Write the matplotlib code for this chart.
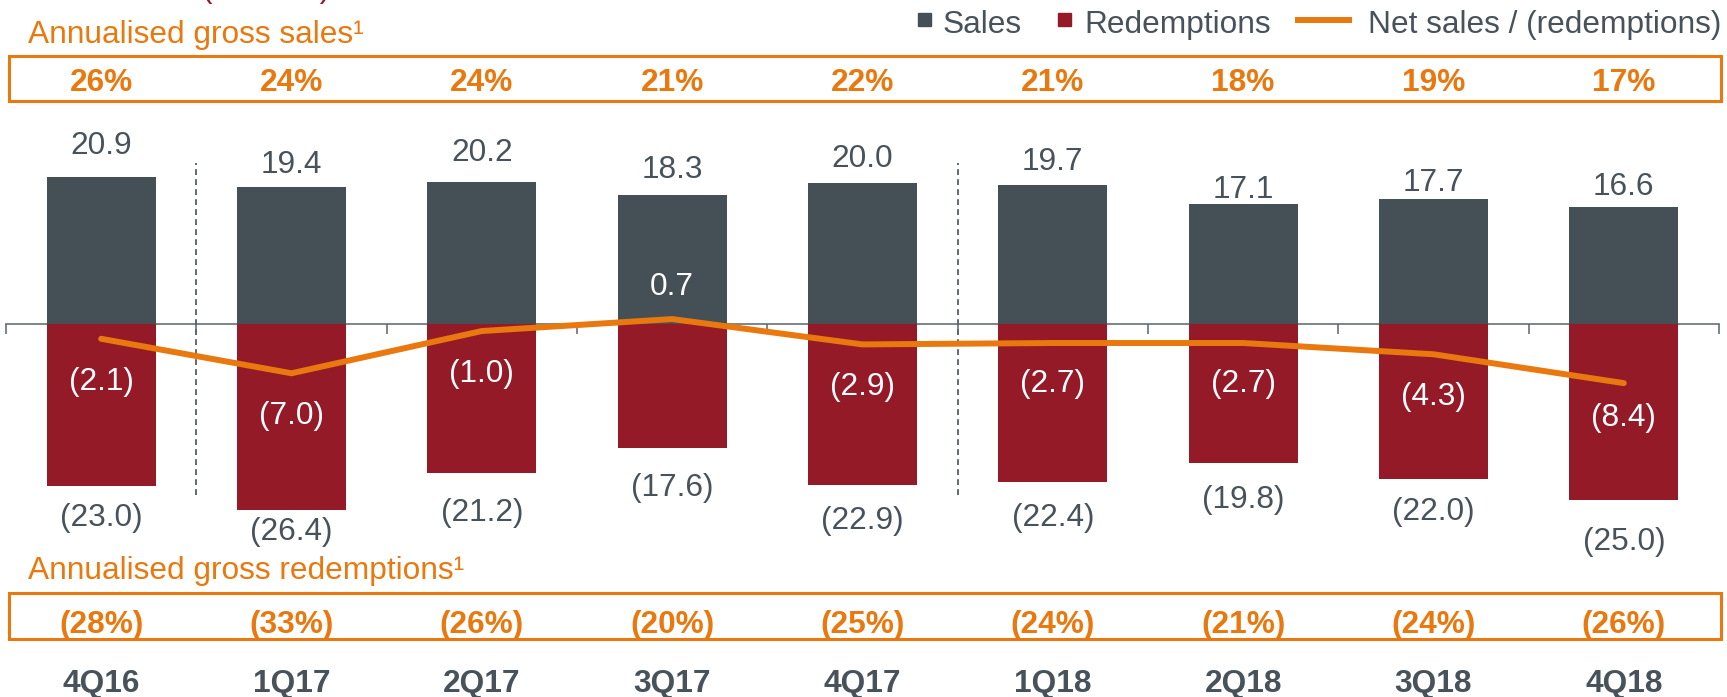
import matplotlib
matplotlib.use('Agg')
import matplotlib.pyplot as plt
from matplotlib.patches import Rectangle
from matplotlib.lines import Line2D

# DATA (GBP bn)
quarters = ['4Q16', '1Q17', '2Q17', '3Q17', '4Q17', '1Q18', '2Q18', '3Q18', '4Q18']
sales = [20.9, 19.4, 20.2, 18.3, 20.0, 19.7, 17.1, 17.7, 16.6]
redemptions = [-23.0, -26.4, -21.2, -17.6, -22.9, -22.4, -19.8, -22.0, -25.0]
net = [-2.1, -7.0, -1.0, 0.7, -2.9, -2.7, -2.7, -4.3, -8.4]
gross_sales_pct = [26, 24, 24, 21, 22, 21, 18, 19, 17]
gross_redemptions_pct = [-28, -33, -26, -20, -25, -24, -21, -24, -26]
period_breaks = [0.5, 4.5]

# hand nudges for label placement (points, up is positive)
sales_nudge = [5.5, -0.8, 4, 1.6, 0.8, 0, -7.1, -4.8, -2.4]
red_nudge = [4, 11.1, -1.6, -1.6, 1.6, 0.8, 0.8, 3.2, -3.2]
net_nudge = [0, 0, 0, 0, 0, 1.5, 1.5, 0, 5.5]

# COLOURS
DARK = '#454F56'
RED = '#951A28'
ORANGE = '#E9780E'
TEXT = '#47525A'
AXIS = '#5A646C'

plt.rcParams['font.family'] = ['Liberation Sans', 'DejaVu Sans']
FS = 22.75

W, H = 1727, 697
fig = plt.figure(figsize=(W / 100, H / 100), dpi=100)


def fx(x):
    return x / W


def fy(y):
    return 1 - y / H


# axes span the full height: zero line at y=324px, 7.04px per unit
zero_px, scale = 324, 7.04
ax = fig.add_axes([fx(6), 0, (1719 - 6) / W, 1])
ax.set_xlim(-0.5, len(quarters) - 0.5)
ax.set_ylim(-(H - zero_px) / scale, zero_px / scale)


def py(y):
    # figure pixel row -> data y
    return (zero_px - y) / scale


x = list(range(len(quarters)))
ax.bar(x, sales, width=0.573, color=DARK, zorder=2)
ax.bar(x, redemptions, width=0.573, color=RED, zorder=2)
ax.plot(x, net, color=ORANGE, lw=4.3, solid_capstyle='round',
        solid_joinstyle='round', zorder=4)

# dashed period separators
for b in period_breaks:
    ax.vlines(b, py(495), py(163), colors=TEXT, linestyles=(0, (3.5, 2.5)),
              lw=1.2, zorder=1)

# axis line at zero with boundary ticks
for s in ['top', 'right', 'left']:
    ax.spines[s].set_visible(False)
ax.spines['bottom'].set_position(('data', 0))
ax.spines['bottom'].set_color(AXIS)
ax.spines['bottom'].set_linewidth(1.1)
ax.spines['bottom'].set_zorder(1)
ax.set_xticks([i - 0.5 for i in range(len(quarters) + 1)])
ax.set_xticklabels([])
ax.tick_params(axis='x', direction='out', length=7.2, width=1.1, color=AXIS)
ax.set_yticks([])
ax.patch.set_visible(False)

# value labels
for i in x:
    ax.annotate(f'{sales[i]:.1f}', (i, sales[i]), xytext=(0, 11 + sales_nudge[i]),
                textcoords='offset points', ha='center', va='baseline',
                fontsize=FS, color=TEXT)
    ax.annotate(f'({-redemptions[i]:.1f})', (i, redemptions[i]),
                xytext=(0, -33 + red_nudge[i]), textcoords='offset points',
                ha='center', va='baseline', fontsize=FS, color=TEXT)
    if net[i] >= 0:
        lab, off = f'{net[i]:.1f}', 17
    else:
        lab, off = f'({-net[i]:.1f})', -36.7
    ax.annotate(lab, (i, net[i]), xytext=(0, off + net_nudge[i]),
                textcoords='offset points', ha='center', va='baseline',
                fontsize=FS, color='white', zorder=5)

# percentage rows and category labels
for i in x:
    ax.text(i, py(91), f'{gross_sales_pct[i]}%', ha='center',
            va='baseline', fontsize=FS, fontweight='bold', color=ORANGE)
    ax.text(i, py(633), f'({-gross_redemptions_pct[i]}%)', ha='center',
            va='baseline', fontsize=FS, fontweight='bold', color=ORANGE)
    ax.text(i, py(692), quarters[i], ha='center',
            va='baseline', fontsize=FS, fontweight='bold', color=TEXT)

# orange boxes
for y0, y1 in [(56, 101), (593, 639)]:
    fig.patches.append(Rectangle((fx(8.5), fy(y1)), fx(1721) - fx(8.5), fy(y0) - fy(y1),
                                 transform=fig.transFigure, fill=False,
                                 edgecolor=ORANGE, lw=2.2))

fig.text(fx(28), fy(43), 'Annualised gross sales¹', fontsize=FS, color=ORANGE,
         va='baseline')
fig.text(fx(28), fy(579), 'Annualised gross redemptions¹', fontsize=FS,
         color=ORANGE, va='baseline')
fig.text(fx(266), fy(-3), '(£ billion)', fontsize=FS, color=RED,
         ha='center', va='baseline')

# legend
for x0, col in [(918, DARK), (1058, RED)]:
    fig.patches.append(Rectangle((fx(x0), fy(26)), fx(13), 13 / H,
                                 transform=fig.transFigure, color=col))
fig.lines.append(Line2D([fx(1298), fx(1349)], [fy(20), fy(20)],
                        transform=fig.transFigure, color=ORANGE, lw=4.3))
fig.text(fx(943), fy(33), 'Sales', fontsize=FS, color=TEXT, va='baseline')
fig.text(fx(1084), fy(33), 'Redemptions', fontsize=FS, color=TEXT, va='baseline')
fig.text(fx(1368), fy(33), 'Net sales / (redemptions)', fontsize=FS, color=TEXT,
         va='baseline')

fig.savefig('out.png', dpi=100)
